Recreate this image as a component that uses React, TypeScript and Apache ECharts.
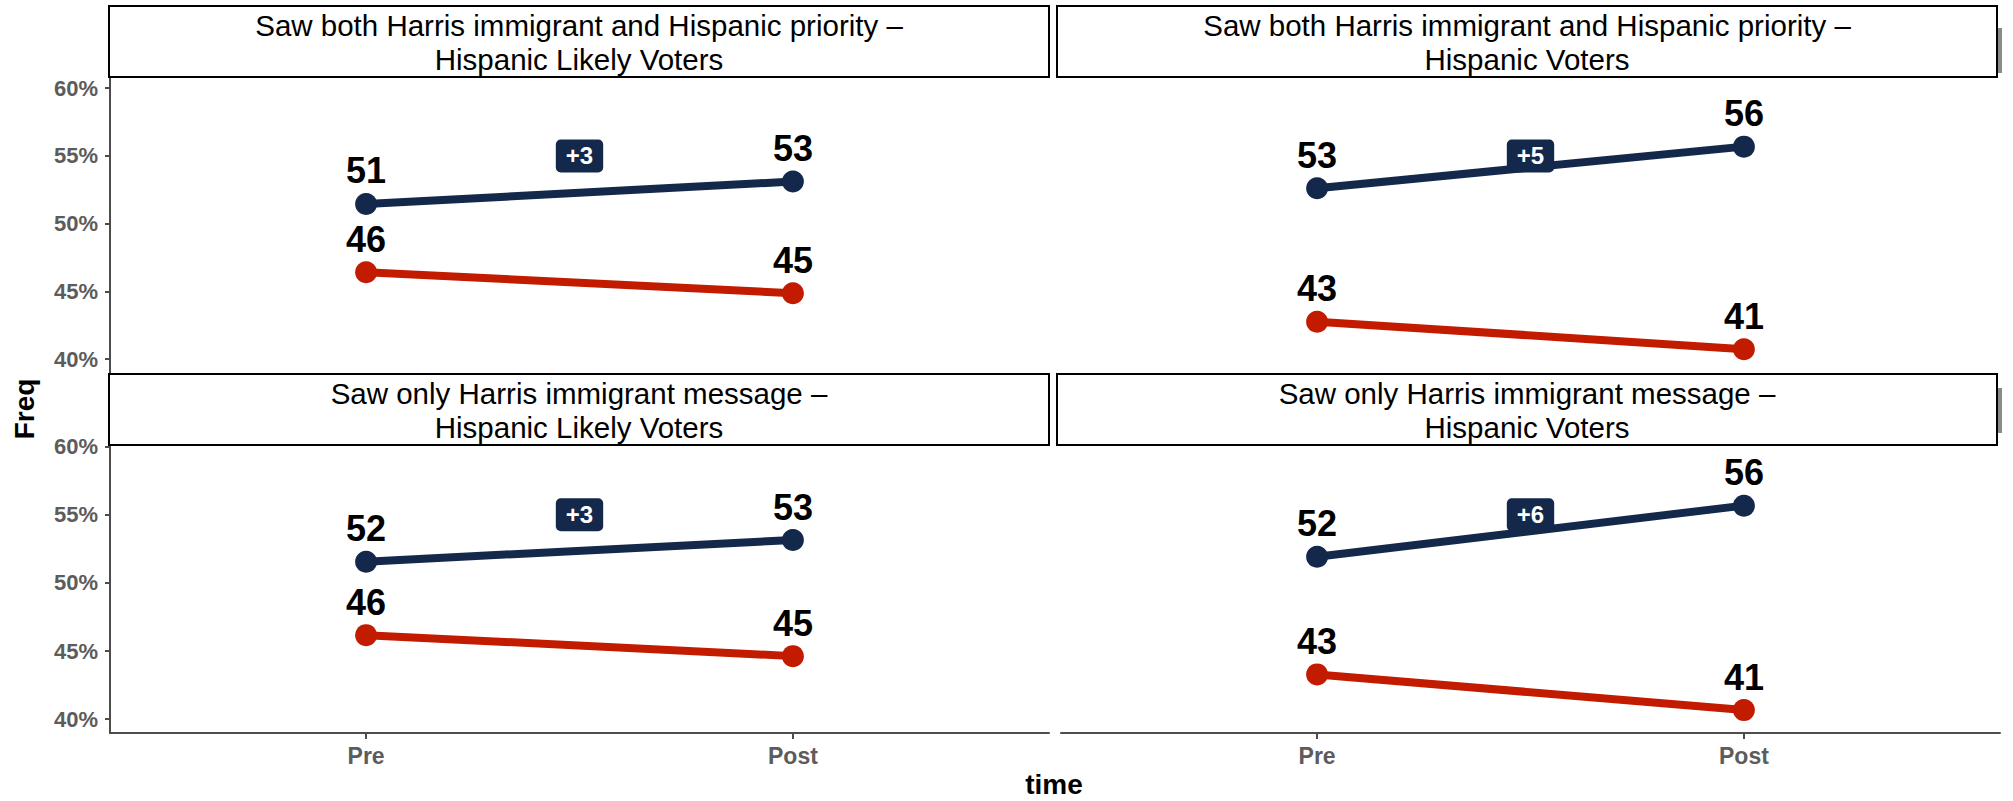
import React, { useEffect, useRef } from "react";
import * as echarts from "echarts";

const categories = ["Pre", "Post"];
const panelTitles = [
  "Saw both Harris immigrant and Hispanic priority –\nHispanic Likely Voters",
  "Saw both Harris immigrant and Hispanic priority –\nHispanic Voters",
  "Saw only Harris immigrant message –\nHispanic Likely Voters",
  "Saw only Harris immigrant message –\nHispanic Voters",
];
const harrisPre = [51.46, 52.62, 51.56, 51.92];
const harrisPost = [53.11, 55.69, 53.15, 55.67];
const trumpPre = [46.42, 42.77, 46.17, 43.29];
const trumpPost = [44.87, 40.74, 44.63, 40.67];
const diffLabels = ["+3", "+5", "+3", "+6"];
const diffPos = [1.5, 55];
const yTicks = [40, 45, 50, 55, 60];
const yRangeTop = [38.98, 60.83];
const yRangeBottom = [38.99, 60.12];

const NAVY = "#13284a";
const RED = "#c21b00";
const AXIS = "#4d4d4d";
const TICKTXT = "#5c5c5c";
const FONT = "'Liberation Sans', Arial, sans-serif";

const grids = [
  { left: 110, top: 77, width: 939, height: 296 },
  { left: 1061, top: 77, width: 939, height: 296 },
  { left: 110, top: 445, width: 939, height: 288 },
  { left: 1061, top: 445, width: 939, height: 288 },
];
const strips = [
  { x: 109, y: 6, w: 940, h: 71 },
  { x: 1057, y: 6, w: 940, h: 71 },
  { x: 109, y: 374, w: 940, h: 71 },
  { x: 1057, y: 374, w: 940, h: 71 },
];

export default function App() {
  const ref = useRef<HTMLDivElement>(null);
  useEffect(() => {
    if (!ref.current) return;
    const chart = echarts.init(ref.current, null, { renderer: "svg" });
    const xAxis: any[] = [];
    const yAxis: any[] = [];
    const series: any[] = [];
    grids.forEach((g, i) => {
      const bottom = i >= 2;
      const leftCol = i % 2 === 0;
      xAxis.push({
        type: "value",
        gridIndex: i,
        min: 0.4,
        max: 2.6,
        axisLine: { show: bottom, onZero: false, lineStyle: { color: AXIS, width: 2 } },
        axisTick: {
          show: bottom,
          customValues: [1, 2],
          length: 6,
          lineStyle: { color: AXIS, width: 2 },
        },
        axisLabel: {
          show: bottom,
          customValues: [1, 2],
          formatter: (v: number) => categories[Math.round(v) - 1] ?? "",
          color: TICKTXT,
          fontWeight: "bold",
          fontSize: 23,
          fontFamily: FONT,
          margin: 11,
        },
        splitLine: { show: false },
      });
      const yr = bottom ? yRangeBottom : yRangeTop;
      yAxis.push({
        type: "value",
        gridIndex: i,
        min: yr[0],
        max: yr[1],
        show: leftCol,
        axisLine: { show: true, lineStyle: { color: AXIS, width: 2 } },
        axisTick: {
          show: true,
          customValues: yTicks,
          length: 5,
          lineStyle: { color: AXIS, width: 2 },
        },
        axisLabel: {
          customValues: yTicks,
          formatter: (v: number) => `${v}%`,
          color: TICKTXT,
          fontWeight: "bold",
          fontSize: 22,
          fontFamily: FONT,
          margin: 12,
        },
        splitLine: { show: false },
      });
      const mk = (name: string, color: string, pre: number, post: number) => ({
        type: "line",
        name,
        xAxisIndex: i,
        yAxisIndex: i,
        data: [
          [1, pre],
          [2, post],
        ],
        symbol: "circle",
        symbolSize: 22,
        lineStyle: { color, width: 8 },
        itemStyle: { color },
        z: 2,
        label: {
          show: true,
          position: "top",
          distance: 4,
          formatter: (p: any) => String(Math.round(p.value[1])),
          color: "#000",
          fontWeight: "bold",
          fontSize: 36,
          fontFamily: FONT,
        },
      });
      series.push(mk("Harris", NAVY, harrisPre[i], harrisPost[i]));
      series.push(mk("Trump", RED, trumpPre[i], trumpPost[i]));
      series.push({
        type: "scatter",
        xAxisIndex: i,
        yAxisIndex: i,
        data: [diffPos],
        symbolSize: 0.1,
        itemStyle: { color: NAVY, opacity: 1 },
        z: 5,
        label: {
          show: true,
          position: "inside",
          formatter: () => diffLabels[i],
          color: "#fff",
          fontWeight: "bold",
          fontSize: 24,
          fontFamily: FONT,
          backgroundColor: NAVY,
          borderRadius: 5,
          padding: [5, 10, 4, 10],
          opacity: 1,
        },
      });
    });

    const graphics: any[] = [];
    strips.forEach((s, i) => {
      graphics.push({
        type: "rect",
        shape: { x: s.x, y: s.y, width: s.w, height: s.h },
        style: { fill: "#fff", stroke: "#000", lineWidth: 2 },
        z: 10,
      });
      graphics.push({
        type: "text",
        x: s.x + s.w / 2,
        y: s.y + s.h / 2 + 1,
        z: 11,
        style: {
          text: panelTitles[i],
          fill: "#000",
          font: `29.5px ${FONT}`,
          lineHeight: 34,
          align: "center",
          verticalAlign: "middle",
        },
      });
    });
    graphics.push({ type: "rect", shape: { x: 1998, y: 28, width: 4, height: 45 }, style: { fill: "#8a8a8a" }, z: 9 });
    graphics.push({ type: "rect", shape: { x: 1998, y: 388, width: 4, height: 45 }, style: { fill: "#8a8a8a" }, z: 9 });
    graphics.push({
      type: "text",
      x: 24,
      y: 409,
      rotation: Math.PI / 2,
      style: {
        text: "Freq",
        fill: "#000",
        font: `bold 28px ${FONT}`,
        align: "center",
        verticalAlign: "middle",
      },
    });
    graphics.push({
      type: "text",
      x: 1054,
      y: 784,
      style: {
        text: "time",
        fill: "#000",
        font: `bold 28px ${FONT}`,
        align: "center",
        verticalAlign: "middle",
      },
    });

    chart.setOption({
      animation: false,
      backgroundColor: "#fff",
      grid: grids.map((g) => ({ ...g, containLabel: false })),
      xAxis,
      yAxis,
      series,
      graphic: graphics,
    });
    return () => chart.dispose();
  }, []);
  return (
    <div
      ref={ref}
      style={{ position: "fixed", left: 0, top: 0, width: 2013, height: 801 }}
    />
  );
}
